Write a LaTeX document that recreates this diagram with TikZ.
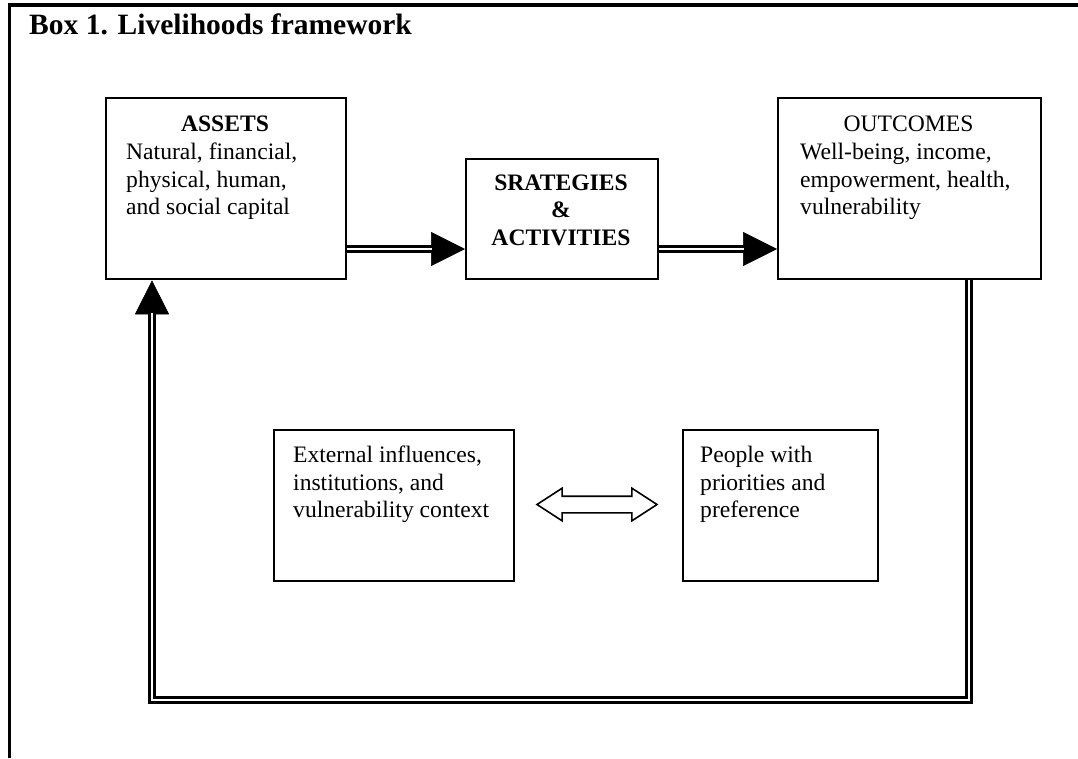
\documentclass[tikz,border=0pt]{standalone}
\usepackage{fontspec}
\setmainfont{Liberation Serif}
\usetikzlibrary{arrows.meta,shapes.arrows}
\begin{document}
\begin{tikzpicture}[x=1pt,y=-1pt,
  box/.style={draw,line width=2.3pt,inner sep=0pt,anchor=north west},
  txt/.style={inner sep=0pt,anchor=base west,font=\fontsize{23.6}{28}\selectfont},
  ctxt/.style={inner sep=0pt,anchor=base,font=\fontsize{23.6}{28}\selectfont},
  btxt/.style={inner sep=0pt,anchor=base,font=\fontsize{23.6}{28}\selectfont\bfseries},
  dbl/.style={double,double distance=2.6pt,line width=2.4pt,line join=miter},
  tipline/.style={line width=0.5pt,-{Triangle[length=34pt,width=34pt]}}]
\useasboundingbox (0,0) rectangle (1078,758);
% frame
\draw[line width=3.5pt] (9.5,758) -- (9.5,5) -- (1078,5);
\node[inner sep=0pt,anchor=base west,font=\fontsize{29.5}{34}\selectfont\bfseries] (title) at (29,34) {Box 1. Livelihoods framework};
% boxes
\node[box,minimum width=240pt,minimum height=181pt] (assets) at (105,97) {};
\node[box,minimum width=192pt,minimum height=120pt] (strat) at (465,158) {};
\node[box,minimum width=263pt,minimum height=181pt] (outcomes) at (777,97) {};
\node[box,minimum width=240pt,minimum height=151pt] (ext) at (273,429) {};
\node[box,minimum width=195pt,minimum height=151pt] (people) at (682,429) {};
% texts
\node[btxt] (a0) at (225,131) {ASSETS};
\node[txt] (a1) at (126,159) {Natural, financial,};
\node[txt] (a2) at (126,187) {physical, human,};
\node[txt] (a3) at (126,214) {and social capital};
\node[btxt] (s1) at (561,190) {SRATEGIES};
\node[btxt] (s2) at (561,217) {\&};
\node[btxt] (s3) at (561,245) {ACTIVITIES};
\node[ctxt] (o0) at (908.5,131) {OUTCOMES};
\node[txt] (o1) at (800,159) {Well-being, income,};
\node[txt] (o2) at (800,187) {empowerment, health,};
\node[txt] (o3) at (800,214) {vulnerability};
\node[txt] (e1) at (293,462) {External influences,};
\node[txt] (e2) at (293,490) {institutions, and};
\node[txt] (e3) at (293,517) {vulnerability context};
\node[txt] (p1) at (700,462) {People with};
\node[txt] (p2) at (700,490) {priorities and};
\node[txt] (p3) at (700,517) {preference};
% connectors
\coordinate (ay) at (0,249);
\draw[tipline] (assets.east |- ay) -- (strat.west |- ay);
\draw[dbl,shorten >=33pt] (assets.east |- ay) -- (strat.west |- ay);
\draw[tipline] (strat.east |- ay) -- (outcomes.west |- ay);
\draw[dbl,shorten >=33pt] (strat.east |- ay) -- (outcomes.west |- ay);
\coordinate (lb) at (152,700);
\coordinate (rb) at (969,700);
\draw[tipline] (lb) -- (assets.south -| lb);
\draw[dbl,shorten >=33pt] (outcomes.south -| rb) -- (rb) -- (lb) -- (assets.south -| lb);
% double-headed hollow arrow
\node[double arrow,draw,line width=1.6pt,minimum height=120pt,inner sep=7.5pt,
  double arrow head extend=8pt,double arrow tip angle=66] (both) at (597,504.5) {};
\end{tikzpicture}
\end{document}
